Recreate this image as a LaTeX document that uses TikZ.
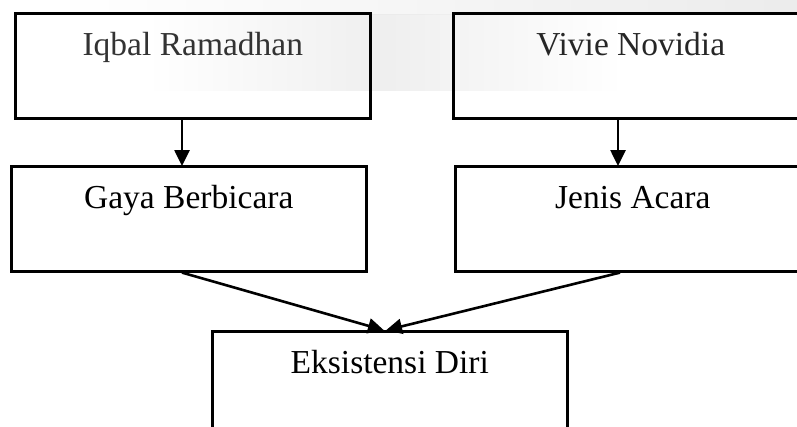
\documentclass[tikz,border=0pt]{standalone}
\usepackage{fontspec}
\setmainfont{Liberation Serif}
\usetikzlibrary{arrows.meta}
\tikzset{
  box/.style={draw=black, line width=2.6pt, rectangle, inner sep=0pt, minimum width=355pt,
    text height=42pt, text depth=63pt, font=\fontsize{33.5}{38}\selectfont},
  arr/.style={draw=black, line width=2.6pt, -{Triangle[length=16pt,width=15pt]}, shorten >=-1pt}
}
\begin{document}
\begin{tikzpicture}[x=1pt,y=-1pt]
\useasboundingbox (0,0) rectangle (797,426);
\clip (0,0) rectangle (797,426);
% faint background smudge from the reference
\shade[left color=white, right color=gray!30, opacity=0.5] (60,0) rectangle (797,14);
\shade[left color=white, right color=white, middle color=gray!25, opacity=0.5] (150,14) rectangle (620,90);
\node[box, anchor=north west, text=black!80] (iqbal) at (14,12) {Iqbal Ramadhan};
\node[box, anchor=north west, text=black!85] (vivie) at (452,12) {Vivie Novidia};
\node[box, anchor=north west] (gaya) at (10,165) {Gaya Berbicara};
\node[box, anchor=north west] (jenis) at (454,165) {Jenis Acara};
\node[box, anchor=north west] (eks) at (211,330) {Eksistensi Diri};
\coordinate (xl) at (182,0);
\coordinate (xr) at (618,0);
\coordinate (sl) at (182,0);
\coordinate (sr) at (620,0);
\coordinate (tl) at (383,330);
\coordinate (tr) at (387,330);
\draw[arr] (iqbal.south -| xl) -- (gaya.north -| xl);
\draw[arr] (vivie.south -| xr) -- (jenis.north -| xr);
\draw[arr] (gaya.south -| sl) -- (tl);
\draw[arr] (jenis.south -| sr) -- (tr);
\end{tikzpicture}
\end{document}
